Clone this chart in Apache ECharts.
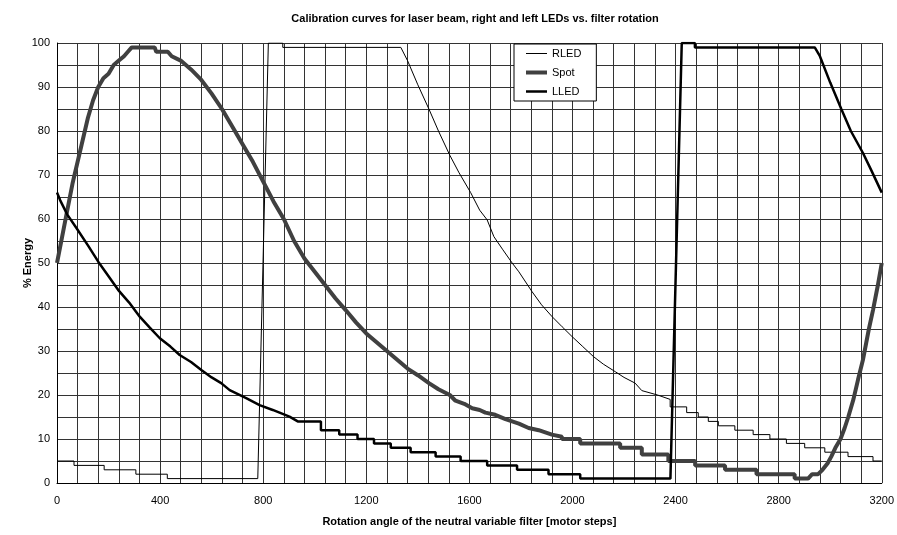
<!DOCTYPE html>
<html>
<head>
<meta charset="utf-8">
<script src="https://cdn.jsdelivr.net/npm/echarts@6/dist/echarts.min.js"></script>
<style>
  html, body { margin: 0; padding: 0; background: #fff; }
  #chart { width: 897px; height: 535px; }
</style>
</head>
<body>
<div id="chart"></div>
<script>
// Kurven: [Motorschritte, % Energie]
var rledPts = [
    [0, 5], [66, 5], [66, 4], [183, 4], [183, 3], [306, 3], [306, 2], [428, 2], [428, 1],
    [779, 1], [820, 100], [876, 100], [876, 99], [1334, 99], [1360, 96], [1400, 90.5],
    [1443, 85], [1480, 80], [1524, 74.5], [1560, 70.5], [1605, 66], [1640, 62], [1669, 59.8],
    [1695, 56], [1730, 53], [1766, 50], [1792, 48], [1843, 43.5], [1880, 40.5], [1921, 37.8],
    [1960, 35.5], [1998, 33.3], [2040, 31], [2082, 28.7], [2120, 27], [2166, 25.3],
    [2200, 24], [2243, 22.7], [2269, 21], [2330, 20], [2379, 19], [2379, 17.3],
    [2443, 17.3], [2443, 16], [2488, 16], [2488, 15], [2527, 15], [2527, 14], [2566, 14],
    [2566, 13], [2630, 13], [2630, 12], [2701, 12], [2701, 11], [2766, 11], [2766, 10],
    [2830, 10], [2830, 9], [2901, 9], [2901, 8], [2979, 8], [2979, 7], [3069, 7], [3069, 6],
    [3166, 6], [3166, 5], [3200, 5]
];

var spotPts = [
    [0, 50], [20, 56], [40, 62], [60, 68], [80, 73], [100, 78], [120, 83], [140, 87],
    [160, 90], [180, 92], [200, 93], [220, 95], [240, 96], [260, 97], [275, 98], [290, 99],
    [379, 99], [385, 98], [430, 98], [445, 97], [480, 96], [520, 94], [560, 91.6],
    [600, 88.5], [640, 85], [680, 81], [720, 77], [760, 73], [800, 68.5], [840, 64],
    [880, 60], [920, 55], [960, 51], [1000, 48], [1040, 45], [1080, 42], [1120, 39.3],
    [1160, 36.5], [1200, 34], [1240, 32], [1280, 30], [1320, 28], [1360, 26], [1400, 24.5],
    [1443, 22.7], [1480, 21.3], [1524, 20], [1546, 18.7], [1580, 18], [1611, 17],
    [1640, 16.6], [1662, 16], [1700, 15.5], [1740, 14.5], [1792, 13.5], [1830, 12.5],
    [1869, 12], [1920, 11], [1959, 10.5], [1959, 10], [2030, 10], [2030, 9], [2185, 9],
    [2185, 8], [2269, 8], [2269, 6.5], [2372, 6.5], [2372, 5], [2476, 5], [2476, 4],
    [2592, 4], [2592, 3], [2714, 3], [2714, 2], [2862, 2], [2862, 1], [2914, 1], [2930, 2],
    [2953, 2], [2970, 3], [2990, 4.5], [3004, 6], [3020, 8], [3040, 10], [3056, 12.5],
    [3070, 15], [3090, 19], [3108, 23.5], [3127, 28], [3150, 35], [3166, 39.3],
    [3185, 45], [3200, 50]
];

var lledPts = [
    [0, 66], [12, 64.3], [40, 61], [76, 57.9], [120, 54], [160, 50.3], [200, 47],
    [237, 43.9], [280, 41], [321, 37.8], [360, 35.3], [399, 32.9], [440, 31], [476, 29.1],
    [520, 27.5], [560, 25.7], [600, 24], [637, 22.7], [670, 21.1], [734, 19.3], [786, 17.7],
    [837, 16.6], [902, 15.1], [934, 14], [1024, 14], [1024, 12], [1095, 12], [1095, 11],
    [1166, 11], [1166, 10], [1230, 10], [1230, 9], [1295, 9], [1295, 8], [1372, 8],
    [1372, 7], [1469, 7], [1469, 6], [1566, 6], [1566, 5], [1669, 5], [1669, 4], [1785, 4],
    [1785, 3], [1907, 3], [1907, 2], [2030, 2], [2030, 1], [2380, 1], [2424, 100],
    [2475, 100], [2475, 99], [2940, 99], [2960, 97], [3000, 91], [3043, 85], [3080, 80],
    [3127, 75], [3160, 71], [3200, 66]
];

var seriesNames = ['RLED', 'Spot', 'LLED'];

var FONT = 'Liberation Sans, Arial, sans-serif';

// Legendensymbole als flache Balken (Linienstärke der Serie)
function barIcon(h) {
    return 'path://M0,0L21,0L21,' + h + 'L0,' + h + 'Z';
}

var myChart = echarts.init(document.getElementById('chart'));

var option = {
    animation: false,
    backgroundColor: '#fff',
    title: {
        text: 'Calibration curves for laser beam, right and left LEDs vs. filter rotation',
        left: 470, top: 8, textAlign: 'center',
        textStyle: { fontFamily: FONT, fontSize: 11, fontWeight: 'bold', color: '#000' }
    },
    legend: {
        data: [
            { name: seriesNames[0], icon: barIcon(1) },
            { name: seriesNames[1], icon: barIcon(4) },
            { name: seriesNames[2], icon: barIcon(2.5) }
        ],
        orient: 'vertical',
        left: 514, top: 44,
        padding: [4, 15, 4, 12],
        itemGap: 8,
        itemWidth: 21, itemHeight: 14,
        symbolKeepAspect: true,
        borderColor: '#000', borderWidth: 1,
        backgroundColor: '#fff',
        textStyle: { fontFamily: FONT, fontSize: 11, color: '#000' }
    },
    grid: { left: 57, right: 13, top: 43, bottom: 52 },
    xAxis: {
        type: 'value',
        min: 0, max: 3200, interval: 80,
        name: 'Rotation angle of the neutral variable filter [motor steps]',
        nameLocation: 'middle', nameGap: 33,
        nameTextStyle: { fontFamily: FONT, fontSize: 11, fontWeight: 'bold', color: '#000' },
        axisLine: { lineStyle: { color: '#000', width: 1 } },
        axisTick: { show: false },
        axisLabel: {
            fontFamily: FONT, fontSize: 11, color: '#000', margin: 12,
            formatter: function (v) { return v % 400 === 0 ? String(v) : ''; }
        },
        splitLine: { show: true, lineStyle: { color: '#333', width: 1 } }
    },
    yAxis: {
        type: 'value',
        min: 0, max: 100, interval: 5,
        name: '% Energy',
        nameLocation: 'middle', nameGap: 24, nameRotate: 90,
        nameMoveOverlap: false,
        nameTextStyle: { fontFamily: FONT, fontSize: 11, fontWeight: 'bold', color: '#000' },
        axisLine: { show: true, lineStyle: { color: '#000', width: 1 } },
        axisTick: { show: false },
        axisLabel: {
            fontFamily: FONT, fontSize: 11, color: '#000', margin: 7,
            formatter: function (v) { return v % 10 === 0 ? String(v) : ''; }
        },
        splitLine: { show: true, lineStyle: { color: '#333', width: 1 } }
    },
    series: [
        {
            name: 'RLED', type: 'line', symbol: 'none', z: 3,
            lineStyle: { color: '#000', width: 1 },
            itemStyle: { color: '#000' },
            data: rledPts
        },
        {
            name: 'Spot', type: 'line', symbol: 'none', z: 4,
            lineStyle: { color: '#404040', width: 4 },
            itemStyle: { color: '#404040' },
            data: spotPts
        },
        {
            name: 'LLED', type: 'line', symbol: 'none', z: 5,
            lineStyle: { color: '#000', width: 2.5 },
            itemStyle: { color: '#000' },
            data: lledPts
        }
    ]
};

myChart.setOption(option);
</script>
</body>
</html>
